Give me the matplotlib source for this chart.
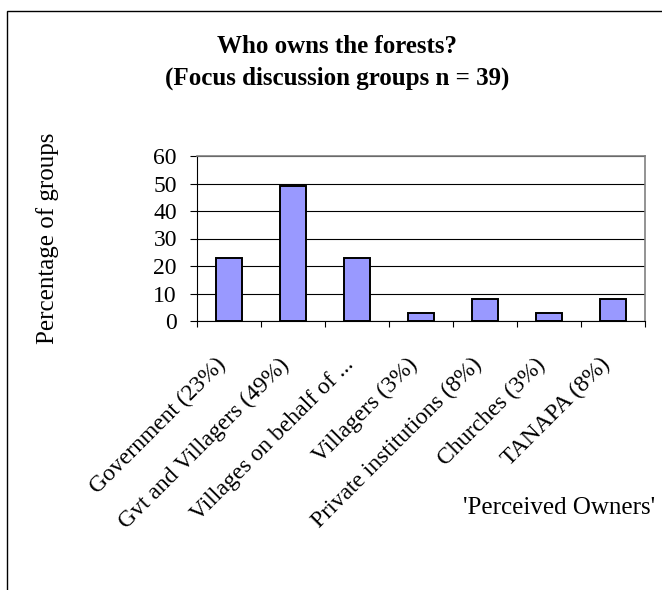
import matplotlib
matplotlib.use("Agg")
import matplotlib.pyplot as plt
from matplotlib.patches import Rectangle
from matplotlib.transforms import ScaledTranslation
import numpy as np

plt.rcParams["font.family"] = ["Liberation Serif", "DejaVu Serif"]

# Perceived forest owners, share of focus discussion groups (n = 39)
owners = [
    "Government (23%)",
    "Gvt and Villagers (49%)",
    "Villages on behalf of ...",
    "Villagers (3%)",
    "Private institutions (8%)",
    "Churches (3%)",
    "TANAPA (8%)",
]
percent_groups = [23, 49, 23, 3, 8, 3, 8]
y_ticks = [0, 10, 20, 30, 40, 50, 60]

W, H = 662, 590
fig = plt.figure(figsize=(W / 100, H / 100), dpi=100)

# plot area in pixel coordinates
left, right, top, bottom = 197, 645, 156, 321
ax = fig.add_axes([left / W, 1 - bottom / H, (right - left) / W, (bottom - top) / H])

x = np.arange(len(owners))
ax.bar(x, percent_groups, width=0.4, color="#9999FF", edgecolor="black",
       linewidth=1.4, zorder=3)

ax.set_xlim(-0.5, len(owners) - 0.5)
ax.set_ylim(0, 60)
ax.set_yticks(y_ticks)
ax.set_yticklabels([str(v) for v in y_ticks], fontsize=17)
ax.yaxis.grid(True, color="black", linewidth=0.8, zorder=0)
ax.set_axisbelow(True)
ax.tick_params(axis="y", direction="out", length=5, width=0.8, pad=9.4)

# category labels at centres, tick marks at category boundaries
ax.set_xticks(x)
ax.set_xticks(np.arange(len(owners) + 1) - 0.5, minor=True)
ax.tick_params(axis="x", which="minor", direction="out", length=4.5, width=0.8)
ax.tick_params(axis="x", which="major", length=0, pad=0)
ax.set_xticklabels(owners, fontsize=17, rotation=45, ha="right", va="top",
                   rotation_mode="anchor")
shift = ScaledTranslation(-14 / 100, -33 / 100, fig.dpi_scale_trans)
for lab in ax.get_xticklabels():
    lab.set_transform(lab.get_transform() + shift)

for side in ("left", "bottom"):
    ax.spines[side].set_color("black")
    ax.spines[side].set_linewidth(0.8)
for side in ("top", "right"):
    ax.spines[side].set_color("#808080")
    ax.spines[side].set_linewidth(1.2)

# titles
fig.text(337 / W, 1 - 53 / H, "Who owns the forests?", ha="center",
         va="baseline", fontsize=18, fontweight="bold")
fig.text(337 / W, 1 - 85 / H, "(Focus discussion groups n = 39)", ha="center",
         va="baseline", fontsize=18, fontweight="bold")
fig.text(48 / W, 1 - 238 / H, "Percentage of groups", rotation=90,
         ha="center", va="center", fontsize=18)
fig.text(463 / W, 1 - 514 / H, "'Perceived Owners'", ha="left",
         va="baseline", fontsize=18)

# chart border
fig.add_artist(Rectangle((6.5 / W, -0.1), 1.2, (H - 11) / H + 0.1,
                         transform=fig.transFigure, fill=False,
                         edgecolor="black", linewidth=1.0))

fig.savefig("out.png", dpi=100)
